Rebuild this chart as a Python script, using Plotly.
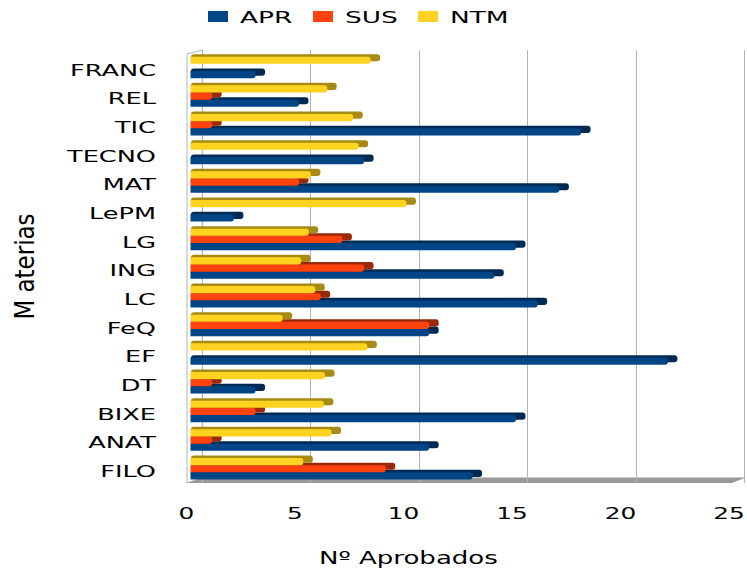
import plotly.graph_objects as go

materias = ['FILO', 'ANAT', 'BIXE', 'DT', 'EF', 'FeQ', 'LC', 'ING', 'LG', 'LePM', 'MAT', 'TECNO', 'TIC', 'REL', 'FRANC']
apr = [13, 11, 15, 3, 22, 11, 16, 14, 15, 2, 17, 8, 18, 5, 3]
sus = [9, 1, 3, 1, 0, 11, 6, 8, 7, 0, 5, 0, 1, 1, 0]
ntm = [5.2, 6.5, 6.15, 6.2, 8.15, 4.25, 5.75, 5.1, 5.45, 9.95, 5.55, 7.75, 7.5, 6.3, 8.3]
ticks = [0, 5, 10, 15, 20, 25]

series = [('APR', apr, '#004586', '#002a52'),
          ('SUS', sus, '#ff420e', '#9b2808'),
          ('NTM', ntm, '#ffd320', '#a88b14')]

W, H = 747, 571
left, right, top, bottom = 187, 746, 50, 483.5
unit = 21.7   # px per value unit
row = 28.7    # px per category


def xr(zero):
    return [(left - zero) / unit, (right - zero) / unit]


def yr(center):
    return [(center - bottom) / row, (center - top) / row]


fig = go.Figure()

# only there so the back wall axis has something to draw
fig.add_trace(go.Scatter(x=[ticks[0], ticks[-1]], y=[materias[0], materias[-1]], mode='markers',
                         marker_opacity=0, showlegend=False, xaxis='x', yaxis='y', hoverinfo='skip'))

# top and side faces of the bars
side = 0.42
for name, vals, col, dark in series:
    fig.add_trace(go.Bar(x=[v + side if v else None for v in vals], y=materias, base=-side, orientation='h',
                         marker=dict(color=dark, cornerradius=3, line_width=0), showlegend=False,
                         xaxis='x2', yaxis='y2', hoverinfo='skip'))

# front faces
for name, vals, col, dark in series:
    fig.add_trace(go.Bar(x=vals, y=materias, name=name, orientation='h',
                         marker=dict(color=col, cornerradius=3, line_width=0),
                         xaxis='x3', yaxis='y3'))

font = dict(family='DejaVu Sans', size=15.5, color='#000000')

fig.update_layout(
    width=W, height=H,
    margin=dict(l=left, r=W - right, t=top, b=H - bottom, autoexpand=False),
    paper_bgcolor='white', plot_bgcolor='white',
    barmode='group', bargap=0.25, bargroupgap=0,
    font=font,
    showlegend=True,
    legend=dict(orientation='h', x=(200 - left) / (right - left), xanchor='left', y=1.117, yanchor='top',
                entrywidth=60, entrywidthmode='pixels', font=dict(size=16.5), traceorder='normal'),
    xaxis=dict(range=xr(202.3), tickvals=ticks, showticklabels=False, showgrid=True, gridcolor='#b3b3b3',
               gridwidth=1, zeroline=False, ticks=''),
    yaxis=dict(range=yr(469.2), categoryorder='array', categoryarray=materias, showticklabels=False,
               showgrid=False, zeroline=False, ticks=''),
    xaxis2=dict(range=xr(200), overlaying='x', visible=False),
    yaxis2=dict(range=yr(466.7), categoryorder='array', categoryarray=materias, overlaying='y', visible=False),
    xaxis3=dict(range=xr(190.5), overlaying='x', tickvals=ticks, showgrid=False, zeroline=False, ticks='',
                ticklabelshift=-4, ticklabelstandoff=19, tickfont=font),
    yaxis3=dict(range=yr(469.2), categoryorder='array', categoryarray=materias, overlaying='y', showgrid=False,
                zeroline=False, ticks='', tickfont=font, ticklabelstandoff=30, ticklabelshift=3,
                title=dict(text='M aterias', standoff=58, font=dict(size=27))),
)

fig.add_annotation(text='Nº Aprobados', xref='paper', yref='paper', showarrow=False,
                   x=(408 - left) / (right - left), y=(bottom - 559) / (bottom - top),
                   xanchor='center', yanchor='middle', font=dict(size=17))

# floor and left wall of the 3D box
fig.add_shape(type='path', xref='paper', yref='paper', layer='between', line_width=0, fillcolor='#999999',
              path='M 0 0 L %f 0 L 1 %f L %f %f Z' % ((731.7 - left) / (right - left), 5.5 / (bottom - top),
                                                      (202.3 - left) / (right - left), 5.5 / (bottom - top)))
fig.add_shape(type='path', xref='paper', yref='paper', layer='between', line=dict(color='#b3b3b3', width=1),
              path='M 0 0 L 0 %f L %f 1 L %f %f Z' % (1 - 4 / (bottom - top), (202.3 - left) / (right - left),
                                                      (202.3 - left) / (right - left), 5.5 / (bottom - top)))

# the original text is stretched sideways
stretch = """
document.body.style.margin = '0';
function widen(sel, k) {
    document.querySelectorAll(sel).forEach(function (t) {
        t.setAttribute('lengthAdjust', 'spacingAndGlyphs');
        t.setAttribute('textLength', t.getComputedTextLength() * k);
    });
}
widen('.y3tick text', 1.65);
widen('.x3tick text, .legendtext', 1.6);
widen('.annotation-text', 1.53);
widen('.g-y3title text', 0.85);
document.querySelectorAll('.legend .legendpoints path').forEach(function (p) {
    p.setAttribute('d', 'M8,5.5H-12V-5.5H8Z');
});
"""

fig.write_html("out.html", post_script=stretch, config=dict(displayModeBar=False))
